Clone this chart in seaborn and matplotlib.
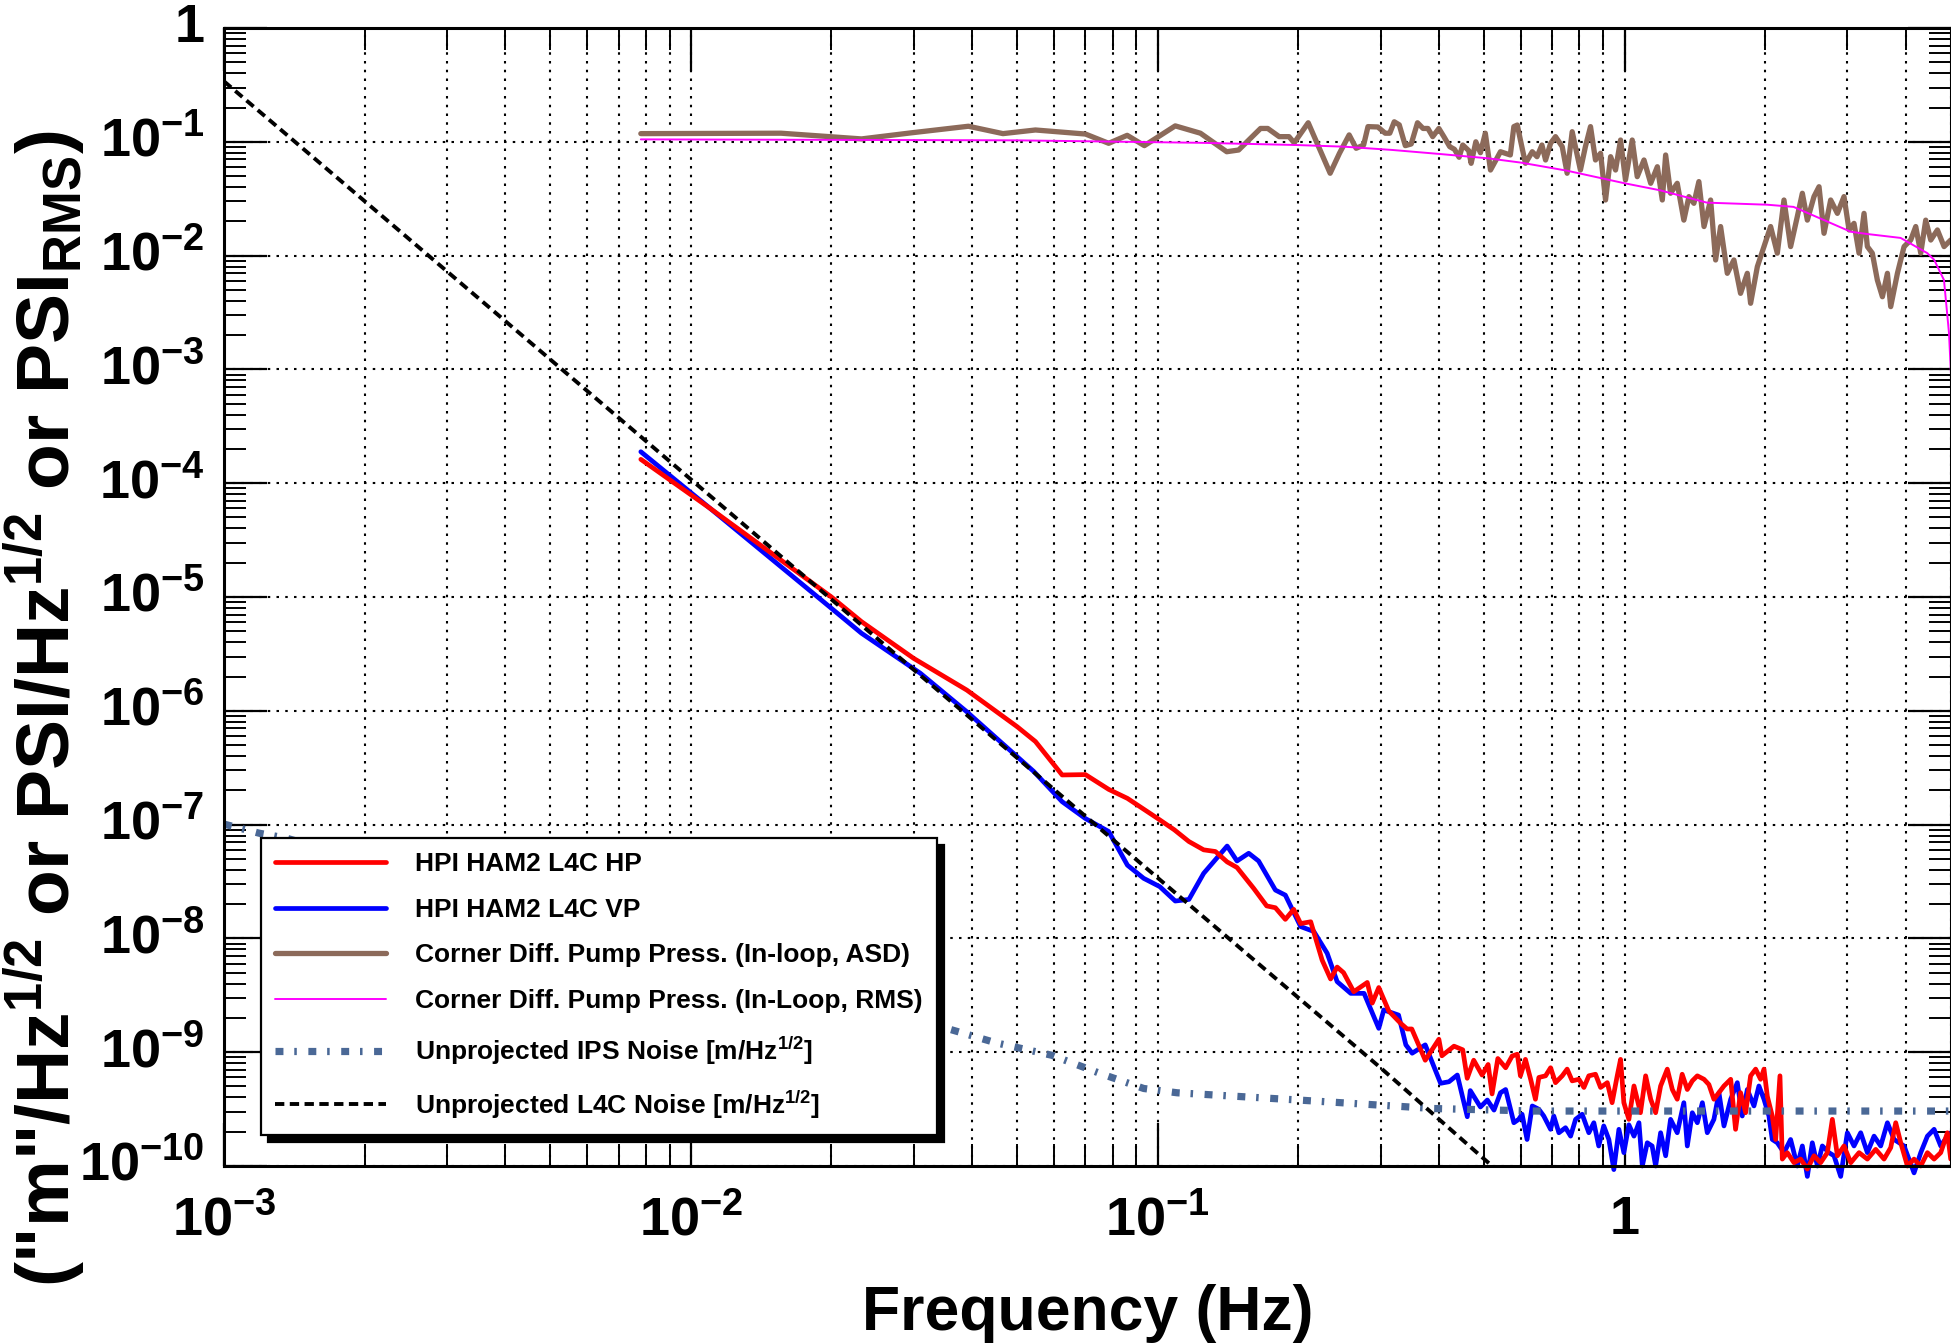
import numpy as np
import pandas as pd
import matplotlib
matplotlib.use("Agg")
import matplotlib.pyplot as plt
import seaborn as sns
from matplotlib.ticker import LogLocator, FuncFormatter, NullFormatter

# ---- data (frequency in Hz, amplitude) ----
hp_freq = [0.0078125, 0.011, 0.02, 0.0232, 0.03, 0.039, 0.05, 0.0547, 0.0624, 0.070,
           0.0785, 0.0861, 0.0997, 0.1085, 0.1166, 0.1254, 0.1329, 0.1408, 0.1478, 0.1605,
           0.1711, 0.1786, 0.1876, 0.1955, 0.2023, 0.2126, 0.2249, 0.2345, 0.2422, 0.25,
           0.2629, 0.281, 0.288, 0.2974, 0.3125, 0.331, 0.342, 0.35, 0.374, 0.40,
           0.406, 0.431, 0.45, 0.46, 0.475, 0.495, 0.51, 0.52, 0.535,
           0.556, 0.574, 0.589, 0.598, 0.613, 0.629, 0.644, 0.655, 0.677, 0.694,
           0.711, 0.735, 0.753, 0.772, 0.798, 0.818, 0.838, 0.866, 0.888, 0.918,
           0.940, 0.964, 0.980, 0.996, 1.021, 1.047, 1.081, 1.109, 1.137, 1.165,
           1.194, 1.234, 1.265, 1.296, 1.328, 1.362, 1.396, 1.431, 1.479, 1.515,
           1.553, 1.592, 1.632, 1.687, 1.728, 1.771, 1.816, 1.861, 1.908, 1.955,
           1.988, 2.021, 2.071, 2.106, 2.151, 2.176, 2.230, 2.305, 2.382, 2.462,
           2.544, 2.629, 2.717, 2.785, 2.855, 2.950, 3.050, 3.177, 3.310, 3.449,
           3.594, 3.714, 3.807, 3.902, 4.033, 4.167, 4.307, 4.451, 4.600, 4.753,
           4.912, 4.993]
hp_asd = [1.62e-4, 6.0e-5, 1.0e-5, 6.07e-6, 2.89e-6, 1.52e-6, 7.24e-7, 5.37e-7, 2.73e-7, 2.75e-7,
          2.04e-7, 1.7e-7, 1.14e-7, 9.0e-8, 7.1e-8, 6.0e-8, 5.8e-8, 4.7e-8, 4.2e-8, 2.75e-8,
          1.93e-8, 1.86e-8, 1.47e-8, 1.8e-8, 1.35e-8, 1.4e-8, 6.45e-9, 4.4e-9, 5.6e-9, 5.0e-9,
          3.4e-9, 4.1e-9, 2.7e-9, 3.7e-9, 2.3e-9, 1.8e-9, 1.6e-9, 1.6e-9, 8.5e-10, 1.3e-9,
          9.3e-10, 1.13e-9, 1.05e-9, 5.9e-10, 8.5e-10, 6.3e-10, 7.8e-10, 4.3e-10, 8.8e-10,
          7.3e-10, 9.25e-10, 9.6e-10, 6.2e-10, 8.65e-10, 5.78e-10, 3.86e-10, 6.0e-10, 6.2e-10, 7.3e-10,
          5.4e-10, 6.2e-10, 7.1e-10, 5.6e-10, 5.78e-10, 4.9e-10, 6.2e-10, 6.4e-10, 4.9e-10, 5.4e-10,
          3.6e-10, 6.2e-10, 8.65e-10, 3.6e-10, 2.57e-10, 5.05e-10, 2.94e-10, 6.2e-10, 3.86e-10, 2.94e-10,
          5.05e-10, 7.1e-10, 4.7e-10, 3.86e-10, 6.4e-10, 4.7e-10, 5.6e-10, 6.2e-10, 5.78e-10, 5.2e-10,
          3.86e-10, 4.41e-10, 5.05e-10, 5.78e-10, 2.1e-10, 4.41e-10, 2.94e-10, 6.2e-10, 7.1e-10, 5.78e-10,
          7.1e-10, 4.1e-10, 2.75e-10, 1.71e-10, 6.2e-10, 1.15e-10, 1.31e-10, 1.07e-10, 1.15e-10, 9.4e-11,
          1.23e-10, 1.07e-10, 1.31e-10, 2.57e-10, 1.23e-10, 1.5e-10, 1.07e-10, 1.31e-10, 1.15e-10, 1.4e-10,
          1.15e-10, 1.45e-10, 2.4e-10, 1.6e-10, 1.0e-10, 1.15e-10, 1.0e-10, 1.31e-10, 1.15e-10, 1.31e-10,
          1.96e-10, 1.15e-10]

vp_freq = [0.0078125, 0.011, 0.02, 0.0232, 0.031, 0.039, 0.0543, 0.0624, 0.070, 0.0785,
           0.0861, 0.0933, 0.101, 0.109, 0.1166, 0.1254, 0.1408, 0.1478, 0.1566, 0.1644,
           0.1786, 0.1876, 0.2023, 0.2159, 0.2306, 0.2422, 0.259, 0.2766, 0.2974, 0.3048,
           0.3279, 0.3399, 0.3507, 0.374, 0.4034, 0.4204, 0.4381, 0.4602, 0.467, 0.491,
           0.508, 0.525, 0.542,
           0.556, 0.579, 0.593, 0.603, 0.618, 0.634, 0.655, 0.671, 0.694, 0.705,
           0.723, 0.747, 0.766, 0.785, 0.811, 0.838, 0.859, 0.880, 0.902, 0.925,
           0.948, 0.972, 0.996, 1.021, 1.047, 1.073, 1.091, 1.118, 1.145, 1.165,
           1.194, 1.224, 1.254, 1.296, 1.339, 1.362, 1.396, 1.431, 1.467, 1.503,
           1.553, 1.592, 1.632, 1.687, 1.743, 1.786, 1.831, 1.892, 1.939, 1.988,
           2.037, 2.071, 2.123, 2.194, 2.267, 2.343, 2.402, 2.462, 2.523, 2.587,
           2.651, 2.739, 2.808, 2.902, 2.999, 3.099, 3.203, 3.310, 3.421, 3.535,
           3.654, 3.776, 3.967, 4.167, 4.307, 4.451, 4.600, 4.753, 4.912, 4.993]
vp_asd = [1.89e-4, 6.0e-5, 7.95e-6, 4.8e-6, 2.14e-6, 9.8e-7, 2.92e-7, 1.59e-7, 1.13e-7, 8.7e-8,
          4.4e-8, 3.37e-8, 2.85e-8, 2.13e-8, 2.2e-8, 3.73e-8, 6.48e-8, 4.79e-8, 5.6e-8, 4.79e-8,
          2.66e-8, 2.4e-8, 1.27e-8, 1.15e-8, 7.4e-9, 4.17e-9, 3.29e-9, 3.29e-9, 1.62e-9, 2.35e-9,
          2.12e-9, 1.16e-9, 9.8e-10, 1.16e-9, 5.33e-10, 5.5e-10, 6.3e-10, 2.71e-10, 4.6e-10, 3.3e-10,
          3.8e-10, 3.1e-10, 4.4e-10,
          4.7e-10, 2.4e-10, 2.57e-10, 2.85e-10, 1.71e-10, 3.37e-10, 3.15e-10, 2.75e-10, 2.1e-10, 2.75e-10,
          1.96e-10, 2.17e-10, 1.83e-10, 2.57e-10, 2.85e-10, 1.96e-10, 2.4e-10, 1.5e-10, 2.25e-10, 1.71e-10,
          9.3e-11, 2.1e-10, 1.31e-10, 2.3e-10, 1.83e-10, 2.4e-10, 1.0e-10, 1.6e-10, 1.5e-10, 1.0e-10,
          1.96e-10, 1.23e-10, 2.57e-10, 1.96e-10, 3.6e-10, 1.5e-10, 2.94e-10, 2.4e-10, 3.6e-10, 1.96e-10,
          2.57e-10, 4.41e-10, 2.25e-10, 3.86e-10, 5.4e-10, 2.75e-10, 4.7e-10, 3.37e-10, 5.05e-10, 3.86e-10,
          2.75e-10, 1.71e-10, 1.6e-10, 1.31e-10, 1.71e-10, 1.0e-10, 1.5e-10, 8.1e-11, 1.6e-10, 1.0e-10,
          1.5e-10, 1.31e-10, 1.23e-10, 8.1e-11, 1.96e-10, 1.5e-10, 1.96e-10, 1.31e-10, 1.83e-10, 1.5e-10,
          2.4e-10, 1.71e-10, 1.5e-10, 8.7e-11, 1.31e-10, 1.83e-10, 2.1e-10, 1.5e-10, 1.83e-10, 1.96e-10]

press_freq = [0.0078125, 0.0156, 0.0232, 0.0297, 0.0393, 0.0466, 0.0547, 0.070, 0.0785, 0.086,
              0.0936, 0.109,
              0.1234, 0.1405, 0.149, 0.166, 0.172, 0.182, 0.191, 0.196, 0.210, 0.234,
              0.245, 0.257, 0.266, 0.276, 0.282, 0.296, 0.307, 0.314, 0.321, 0.329,
              0.339, 0.349, 0.36, 0.370, 0.379, 0.388, 0.40, 0.41, 0.422, 0.432,
              0.442, 0.45, 0.4635, 0.469, 0.48, 0.491, 0.503, 0.516,
              0.542, 0.569, 0.579, 0.589, 0.598, 0.613, 0.634, 0.649, 0.665, 0.677,
              0.694, 0.711, 0.735, 0.753, 0.772, 0.804, 0.824, 0.845, 0.866, 0.888,
              0.910, 0.933, 0.956, 0.980, 1.004, 1.038, 1.064, 1.100, 1.137, 1.175,
              1.204, 1.224, 1.254, 1.296, 1.339, 1.373, 1.407, 1.442, 1.479, 1.528,
              1.566, 1.605, 1.659, 1.714, 1.771, 1.831, 1.861, 1.924, 1.988, 2.054,
              2.123, 2.194, 2.267, 2.343, 2.402, 2.462, 2.544, 2.608, 2.673, 2.762,
              2.855, 2.950, 3.024, 3.099, 3.177, 3.256, 3.310, 3.392, 3.477, 3.565,
              3.654, 3.714, 3.839, 3.967, 4.099, 4.202, 4.307, 4.414, 4.525, 4.676,
              4.832, 4.993]
press_asd = [0.118, 0.119, 0.106, 0.12, 0.137, 0.118, 0.127, 0.117, 0.097, 0.114,
             0.0925, 0.138,
             0.119, 0.0818, 0.0847, 0.131, 0.131, 0.111, 0.111, 0.098, 0.147, 0.0529,
             0.0793, 0.115, 0.0877, 0.0937, 0.136, 0.135, 0.119, 0.119, 0.150, 0.141,
             0.0925, 0.0957, 0.147, 0.131, 0.131, 0.111, 0.131, 0.111, 0.0906, 0.0859,
             0.0731, 0.0937, 0.0836, 0.0647, 0.100, 0.0802, 0.119, 0.0565,
             0.0818, 0.0766, 0.136, 0.1405, 0.1037, 0.0647, 0.0818, 0.074, 0.0937, 0.0692,
             0.097, 0.111, 0.0906, 0.0529, 0.1227, 0.0565, 0.0906, 0.136, 0.0692, 0.0793,
             0.0308, 0.074, 0.0565, 0.1037, 0.0462, 0.1037, 0.0494, 0.0692, 0.0432, 0.0604,
             0.0308, 0.0766, 0.0353, 0.0432, 0.0205, 0.033, 0.0288, 0.0447, 0.018, 0.0308,
             0.00915, 0.018, 0.00699, 0.00915, 0.00466, 0.00699, 0.00381, 0.008, 0.012, 0.018,
             0.0105, 0.0308, 0.012, 0.022, 0.0353, 0.0205, 0.033, 0.0403, 0.0157, 0.0308,
             0.0235, 0.033, 0.0168, 0.0192, 0.0105, 0.0235, 0.012, 0.0105, 0.0061, 0.00435,
             0.00699, 0.00356, 0.00699, 0.012, 0.0137, 0.018, 0.0105, 0.0205, 0.0137, 0.0168,
             0.012, 0.0137]

rms_freq = [0.0078125, 0.05, 0.1234, 0.198, 0.2507, 0.3177, 0.4024, 0.5097, 0.60, 0.753,
            1.0, 1.19, 1.5, 2.02, 2.3, 3.05, 3.3, 3.9, 4.45, 4.6,
            4.83, 4.95, 5.0]
rms_val = [0.105, 0.103, 0.098, 0.0937, 0.0906, 0.0848, 0.0781, 0.0716, 0.0656, 0.0557,
           0.0432, 0.0375, 0.0292, 0.028, 0.0268, 0.0162, 0.0155, 0.0143, 0.0105, 0.0092,
           0.0061, 0.0021, 0.0009]

ips_freq = [1e-3, 1.19e-3, 1.36e-3, 0.0299, 0.0353, 0.045, 0.0593, 0.0753, 0.0933, 0.11,
            0.2, 0.39, 0.64, 1.0, 2.0, 5.0]
ips_noise = [1.01e-7, 8.4e-8, 7.6e-8, 2.06e-9, 1.62e-9, 1.21e-9, 9.4e-10, 6.5e-10, 4.8e-10, 4.4e-10,
             3.8e-10, 3.2e-10, 3.04e-10, 3.04e-10, 3.04e-10, 3.04e-10]

l4c_freq = [1e-3, 3e-3, 0.01, 0.03, 0.1, 0.3, 0.52]
l4c_noise = [0.34, 7.3e-3, 1.08e-4, 2.3e-6, 3.4e-8, 7.3e-10, 1.0e-10]

labels = ["HPI HAM2 L4C HP",
          "HPI HAM2 L4C VP",
          "Corner Diff. Pump Press. (In-loop, ASD)",
          "Corner Diff. Pump Press. (In-Loop, RMS)",
          r"Unprojected IPS Noise [m/Hz$^{1/2}$]",
          r"Unprojected L4C Noise [m/Hz$^{1/2}$]"]

# ---- style ----
sns.set_theme(style="ticks", rc={
    "axes.edgecolor": "black", "axes.labelcolor": "black", "text.color": "black",
    "xtick.color": "black", "ytick.color": "black", "axes.linewidth": 2.2,
})
plt.rcParams["font.family"] = ["Liberation Sans", "DejaVu Sans"]
plt.rcParams["font.weight"] = "bold"
plt.rcParams["axes.labelweight"] = "bold"
plt.rcParams["mathtext.fontset"] = "custom"
plt.rcParams["mathtext.rm"] = "Liberation Sans:bold"
plt.rcParams["mathtext.it"] = "Liberation Sans:bold"
plt.rcParams["mathtext.bf"] = "Liberation Sans:bold"
plt.rcParams["ytick.alignment"] = "center"

fig = plt.figure(figsize=(19.51, 13.43), dpi=100)
ax = fig.add_axes([224 / 1951, 1 - 1166 / 1343, 1 - 224 / 1951, (1166 - 28) / 1343])
ax.set_xscale("log")
ax.set_yscale("log")


def draw(freq, vals, label, **kw):
    df = pd.DataFrame({"f": freq, "v": vals})
    sns.lineplot(data=df, x="f", y="v", ax=ax, label=label, estimator=None,
                 sort=False, legend=False, **kw)


draw(vp_freq, vp_asd, labels[1], color="#0000ff", linewidth=3.4, clip_on=False)
draw(hp_freq, hp_asd, labels[0], color="#ff0000", linewidth=3.4, clip_on=False)
draw(press_freq, press_asd, labels[2], color="#8c6a5a", linewidth=3.8)
draw(rms_freq, rms_val, labels[3], color="#ff00ff", linewidth=1.4)
draw(ips_freq, ips_noise, labels[4], color="#4a6896", linewidth=5.2,
     linestyle=(0, (1.1, 1.5, 0.35, 1.6)), dash_capstyle="butt")
draw(l4c_freq, l4c_noise, labels[5], color="black", linewidth=2.8,
     linestyle=(0, (2.4, 1.4)), dash_capstyle="butt")

ax.set_xlim(1e-3, 5)
ax.set_ylim(1e-10, 1)


def decade_label(val, pos):
    e = int(round(np.log10(val)))
    return "1" if e == 0 else rf"$10^{{{e}}}$"


for axis in (ax.xaxis, ax.yaxis):
    axis.set_major_locator(LogLocator(base=10, numticks=30))
    axis.set_minor_locator(LogLocator(base=10, subs=np.arange(2, 10), numticks=30))
    axis.set_major_formatter(FuncFormatter(decade_label))
    axis.set_minor_formatter(NullFormatter())

grid_ls = (0, (1.2, 3.0))
ax.grid(True, which="major", axis="both", color="black", linewidth=1.5, linestyle=grid_ls)
ax.grid(True, which="minor", axis="x", color="black", linewidth=1.5, linestyle=grid_ls)

ax.tick_params(which="major", direction="in", length=31, width=1.6,
               top=True, right=True, labelsize=39)
ax.tick_params(which="minor", direction="in", length=16, width=1.4,
               top=True, right=True)
ax.tick_params(axis="x", which="major", pad=21)
ax.tick_params(axis="y", which="major", pad=14)
for s in ax.spines.values():
    s.set_linewidth(2.2)

ax.set_xlabel("Frequency (Hz)", fontsize=45, fontweight="bold", va="top")
ax.xaxis.set_label_coords(0.5, -0.104)
ax.set_ylabel(r'("m"/Hz$^{1/2}$ or PSI/Hz$^{1/2}$ or PSI$_{RMS}$)',
              fontsize=54, fontweight="bold", va="baseline")
ax.yaxis.set_label_coords(-0.089, 0.402)

handles, labs = ax.get_legend_handles_labels()
lookup = dict(zip(labs, handles))
leg = ax.legend([lookup[l] for l in labels], labels, loc="lower left",
                bbox_to_anchor=(0.0214, 0.0272), borderaxespad=0,
                frameon=True, fancybox=False, framealpha=1, edgecolor="black",
                shadow={"ox": 5, "oy": -5, "facecolor": "black",
                        "edgecolor": "black", "alpha": 1},
                prop={"size": 19, "weight": "bold"},
                labelspacing=0.82, handlelength=4.2, handletextpad=1.1,
                borderpad=0.55)
leg.get_frame().set_linewidth(1.6)

fig.savefig("out.png", dpi=100)
